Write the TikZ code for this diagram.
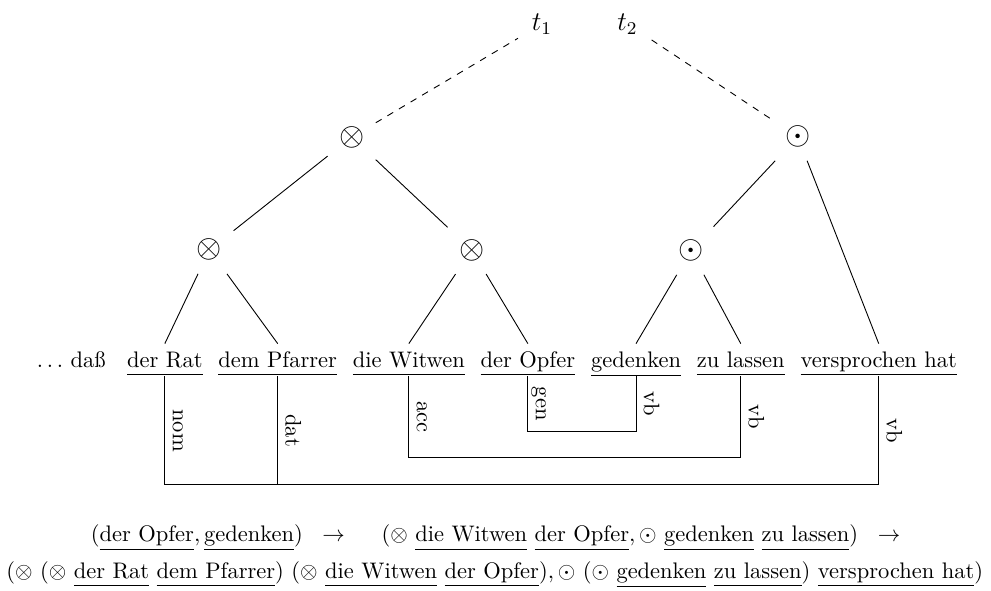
\documentclass[tikz,border=0pt]{standalone}
\usepackage{amsmath}
\usepackage{amssymb}
\usetikzlibrary{positioning}
\newcommand{\wrd}[1]{\ensuremath{\underline{\vphantom{p}\mbox{#1}}}}
\newcommand{\derives}{\kern6pt\rightarrow\kern13.5pt}

\begin{document}
\begin{tikzpicture}[scale=1, >=stealth,
        op/.style={rectangle, inner sep=0pt, minimum size=21pt, font=\Large},
        word/.style={inner sep=.3333em, text height=7pt, text depth=.5pt},
        rel/.style={midway, rotate=-90, anchor=south, text depth=0pt}]
        \useasboundingbox (0,0) rectangle (15.484,-9.219);
        \node[word, anchor=base west] (rat) at (1.8625,-5.739) {\wrd{der Rat}};
        \node[word, left=2.5pt of rat] (dass) {$\ldots$ daß};
        \node[word, right=0pt of rat] (pfarrer) {\wrd{dem Pfarrer}};
        \node[word, right=0pt of pfarrer] (witwen) {\wrd{die Witwen}};
        \node[word, right=0pt of witwen] (opfer) {\wrd{der Opfer}};
        \node[word, right=0pt of opfer] (gedenken) {\wrd{gedenken}};
        \node[word, right=0pt of gedenken] (lassen) {\wrd{zu lassen}};
        \node[word, right=0pt of lassen] (versprochen) {\wrd{versprochen hat}};
        \node[op, font=\large] (t1) at (8.469,-0.375) {$t_1$};
        \node[op, font=\large] (t2) at (9.805,-0.375) {$t_2$};
        \node[op] (l0) at (5.495,-2.141) {$\otimes$};
        \node[op] (r0) at (12.464,-2.136) {$\odot$};
        \node[op] (l1) at (3.273,-3.903) {$\otimes$};
        \node[op] (l2) at (7.370,-3.906) {$\otimes$};
        \node[op] (r1) at (10.797,-3.917) {$\odot$};
        \draw[dashed] (l0) -- (t1);
        \draw[dashed] (t2) -- (r0);
        \draw (l0) -- (l1);
        \draw (l0) -- (l2);
        \draw (r0) -- (r1);
        \draw (r0) -- (versprochen.north);
        \draw (l1) -- (rat.north);
        \draw (l1) -- (pfarrer.north);
        \draw (l2) -- (witwen.north);
        \draw (l2) -- (opfer.north);
        \draw (r1) -- (gedenken.north);
        \draw (r1) -- (lassen.north);
        \draw (opfer.south) -- node[rel]{gen} ++(0,-0.855) -| node[rel, pos=0.75]{vb} (gedenken.south);
        \draw (witwen.south) -- node[rel]{acc} ++(0,-1.273) -| node[rel, pos=0.75]{vb} (lassen.south);
        \draw (rat.south) -- node[rel]{nom} ++(0,-1.692) -| node[rel, pos=0.75]{vb} (versprochen.south);
        \draw (pfarrer.south) -- node[rel]{dat} ++(0,-1.692);
        \node[anchor=base] (step1) at (7.98,-8.464) {$(\wrd{der Opfer}, \wrd{gedenken}) \derives (\otimes\ \wrd{die Witwen}\ \wrd{der Opfer}, \odot\ \wrd{gedenken}\ \wrd{zu lassen}) \derives$};
        \node[anchor=base] (step2) at (7.73,-9.036) {$(\otimes\ (\otimes\ \wrd{der Rat}\ \wrd{dem Pfarrer})\ (\otimes\ \wrd{die Witwen}\ \wrd{der Opfer}), \odot\ (\odot\ \wrd{gedenken}\ \wrd{zu lassen})\ \wrd{versprochen hat})$};
    \end{tikzpicture}
\end{document}
